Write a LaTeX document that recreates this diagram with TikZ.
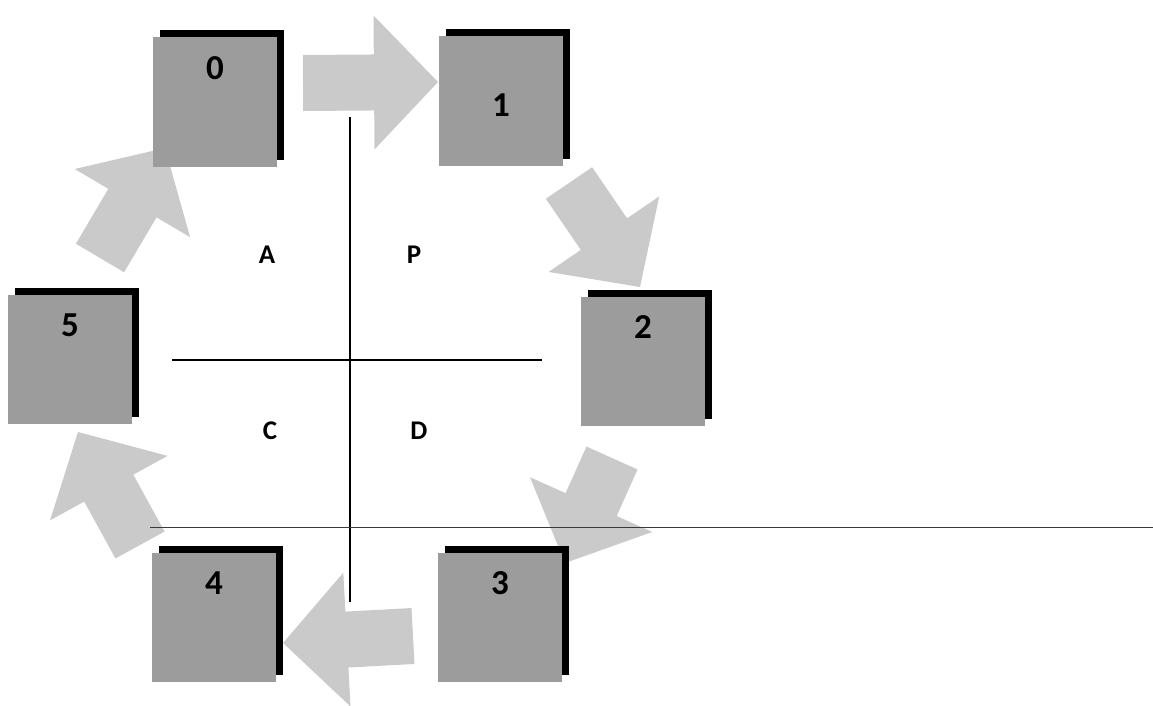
\documentclass[tikz,border=0pt]{standalone}
\usepackage{fontspec}
\setmainfont{Carlito}
\usepackage{tikz}
\usetikzlibrary{calc, shadows}
\definecolor{boxgray}{HTML}{9C9C9C}
\definecolor{arrowgray}{HTML}{CACACA}
\definecolor{rule}{HTML}{3A3A3A}

% block arrow from tail #1 to tip #2
\newcommand{\blockarrow}[2]{%
  \path ($(#2)!64pt!(#1)$) coordinate (#1-neck);
  \fill[arrowgray] ($(#1)!28pt!90:(#2)$) -- ($(#1-neck)!28pt!90:(#2)$)
    -- ($(#1-neck)!67pt!90:(#2)$) -- (#2)
    -- ($(#1-neck)!67pt!-90:(#2)$) -- ($(#1-neck)!28pt!-90:(#2)$)
    -- ($(#1)!28pt!-90:(#2)$) -- cycle;}

\begin{document}
\begin{tikzpicture}[x=1pt, y=-1pt,
  box/.style={rectangle, fill=boxgray, minimum width=124pt, minimum height=129pt,
    inner sep=0pt, text height=42pt, text depth=87pt,
    font=\fontsize{35}{35}\selectfont\bfseries,
    drop shadow={fill=black, opacity=1, shadow xshift=7pt, shadow yshift=7pt}},
  quad/.style={font=\fontsize{27}{27}\selectfont\bfseries},
  axis/.style={line width=1.6pt, color=black},
  ground/.style={line width=1pt, color=rule}]
\useasboundingbox (0,0) rectangle (1153,706);

% arrow ends
\coordinate (t01) at (303,83);  \coordinate (h01) at (438,82);
\coordinate (t12) at (569,183); \coordinate (h12) at (640,287);
\coordinate (t23) at (612,458); \coordinate (h23) at (565,563);
\coordinate (t34) at (413,636); \coordinate (h34) at (283,643);
\coordinate (t45) at (140,545); \coordinate (h45) at (78,432);
\coordinate (t50) at (100,258); \coordinate (h50) at (165,148);
\blockarrow{t01}{h01}
\blockarrow{t12}{h12}
\blockarrow{t23}{h23}
\blockarrow{t34}{h34}
\blockarrow{t45}{h45}
\blockarrow{t50}{h50}

% steps
\node[box] (b0) at (215,102) {0};
\node[box, text height=80pt, text depth=49pt] (b1) at (501,101) {1};
\node[box] (b2) at (643,361) {2};
\node[box] (b3) at (500,617) {3};
\node[box] (b4) at (214,617) {4};
\node[box] (b5) at (70,359) {5};

% cross
\coordinate (vtop) at (350,117);  \coordinate (vbot) at (350,602);
\coordinate (hleft) at (172,360); \coordinate (hright) at (542,360);
\draw[axis] (vtop) -- (vbot);
\draw[axis] (hleft) -- (hright);

\node[quad] (qa) at (267,255) {A};
\node[quad] (qp) at (414,255) {P};
\node[quad] (qc) at (270,431) {C};
\node[quad] (qd) at (419,431) {D};

\coordinate (gleft) at (150,527); \coordinate (gright) at (1153,527);
\draw[ground] (gleft) -- (gright);
\end{tikzpicture}
\end{document}
